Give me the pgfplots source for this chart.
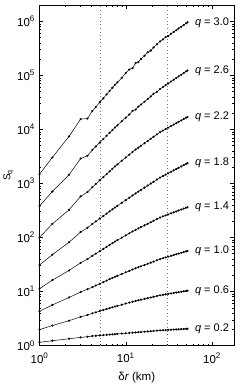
\documentclass[border=0pt]{standalone}
\usepackage{fontspec}
\setmainfont{Liberation Sans}
\usepackage{pgfplots}
\usepackage{pgfplotstable}
\pgfplotsset{compat=1.18}
\pgfplotstableread{
x q02 q06 q10 q14 q18 q22 q26 q30
1 1.148 1.97 4.30 11.2 30.9 100 380 1480
1.41 1.225 2.34 5.62 16.2 47.9 178 708 3020
2.2 1.334 2.88 7.76 24.5 81.3 324 1445 7410
3 1.413 3.39 9.77 33.9 126 575 2884 15500
3.6 1.455 3.67 11.0 39.8 151 692 3236 15800
4.1 1.496 3.94 12.0 45.7 178 851 4169 21900
4.5 1.514 4.11 12.9 50.1 198 975 4820 25900
5 1.538 4.34 13.9 55.7 224 1138 5700 31600
5.5 1.556 4.53 14.9 61.4 249 1306 6620 37600
6 1.574 4.73 15.9 67.0 276 1486 7600 44300
6.5 1.592 4.92 16.9 72.6 303 1671 8650 51400
7 1.607 5.09 17.8 78.2 330 1862 9700 58900
7.5 1.622 5.26 18.7 83.7 357 2061 10810 66800
8 1.637 5.42 19.5 88.9 384 2244 11890 74100
9 1.663 5.70 21.1 99.1 437 2618 14090 89700
10 1.687 5.97 22.6 109 490 3006 16410 110000
11 1.706 6.22 24.0 119 543 3404 18840 128000
12 1.726 6.47 25.5 129 598 3819 22000 136000
13 1.746 6.68 26.8 138 652 4227 23200 168000
14 1.762 6.87 28.1 147 705 4592 26300 176000
15 1.778 7.05 29.2 155 757 4966 28800 200000
16.5 1.803 7.29 30.9 167 834 5534 32500 230000
18 1.824 7.53 32.6 179 912 6109 36400 268000
19.5 1.841 7.76 34.2 191 991 6683 40500 286000
21 1.862 7.96 35.7 203 1069 7271 45500 328000
23 1.884 8.24 37.8 219 1178 8072 49500 375000
25 1.905 8.49 39.7 233 1282 8872 55800 424000
27 1.919 8.67 41.2 245 1368 9484 60700 461000
29 1.932 8.85 42.6 255 1452 10120 65600 510000
31 1.945 8.99 44.0 266 1535 10740 70500 530000
33.5 1.959 9.20 45.6 279 1641 11510 76600 587000
36 1.972 9.38 47.2 291 1742 12250 82800 635000
38.5 1.986 9.55 48.8 303 1841 13000 88900 684000
41 1.995 9.70 50.2 315 1945 13770 95300 735000
44 2.009 9.89 51.9 328 2061 14620 102600 793000
47 2.023 10.07 53.6 341 2178 15520 110400 853000
50 2.032 10.23 55.2 355 2296 16410 118000 914000
52 2.042 10.35 56.2 363 2371 16980 123000 955000
}\data
\begin{document}
\begin{tikzpicture}
\begin{axis}[
  scale only axis, width=194.5pt, height=340.5pt,
  xmode=log, ymode=log, xmin=1, xmax=180, ymin=1, ymax=2e6,
  xtick={1,10,100},
  xticklabels={10\textsuperscript{0},10\textsuperscript{1},10\textsuperscript{2}},
  ytick={1,10,100,1000,1e4,1e5,1e6},
  yticklabels={10\textsuperscript{0},10\textsuperscript{1},10\textsuperscript{2},10\textsuperscript{3},10\textsuperscript{4},10\textsuperscript{5},10\textsuperscript{6}},
  minor xtick={2,3,4,5,6,7,8,9,20,30,40,50,60,70,80,90},
  minor ytick={2,3,4,5,6,7,8,9,20,30,40,50,60,70,80,90,200,300,400,500,600,700,800,900,2e3,3e3,4e3,5e3,6e3,7e3,8e3,9e3,2e4,3e4,4e4,5e4,6e4,7e4,8e4,9e4,2e5,3e5,4e5,5e5,6e5,7e5,8e5,9e5},
  tick align=inside, major tick length=4pt, minor tick length=2pt,
  every tick/.style={black, line width=0.4pt},
  axis line style={line width=0.6pt},
  tick label style={font=\fontsize{11.5}{13}\selectfont},
  xticklabel style={yshift=-4pt},
  yticklabel style={xshift=-1pt},
  xlabel={δ\textit{r} (km)}, ylabel={S\textsubscript{q}},
  label style={font=\fontsize{11.5}{13}\selectfont},
  xlabel style={yshift=-2pt},
  every axis y label/.style={at={(axis description cs:-0.16,0.5)}, rotate=90, anchor=center},
  clip=false,
]
\addplot[black!55, line width=0.5pt, dash pattern=on 0.6pt off 3pt] coordinates {(5,1) (5,2e6)};
\addplot[black!55, line width=0.5pt, dash pattern=on 0.6pt off 3pt] coordinates {(30,1) (30,2e6)};
\foreach \c in {q02,q06,q10,q14,q18,q22,q26,q30}{
  \addplot[black, line width=0.5pt, mark=*, mark size=0.8pt] table[x=x,y=\c]{\data};
}
\begin{scope}[every node/.style={anchor=west, xshift=4pt, font=\fontsize{11}{13}\selectfont}]
\node at (axis cs:52,955000) {\textit{q} = 3.0};
\node at (axis cs:52,123000) {\textit{q} = 2.6};
\node at (axis cs:52,16980) {\textit{q} = 2.2};
\node at (axis cs:52,2371) {\textit{q} = 1.8};
\node at (axis cs:52,363) {\textit{q} = 1.4};
\node at (axis cs:52,56.2) {\textit{q} = 1.0};
\node at (axis cs:52,10.35) {\textit{q} = 0.6};
\node at (axis cs:52,2.042) {\textit{q} = 0.2};
\end{scope}
\end{axis}
\pgfresetboundingbox
\path[use as bounding box] (-39.5pt,-40.5pt) rectangle (201.5pt,345.5pt);
\end{tikzpicture}
\end{document}
